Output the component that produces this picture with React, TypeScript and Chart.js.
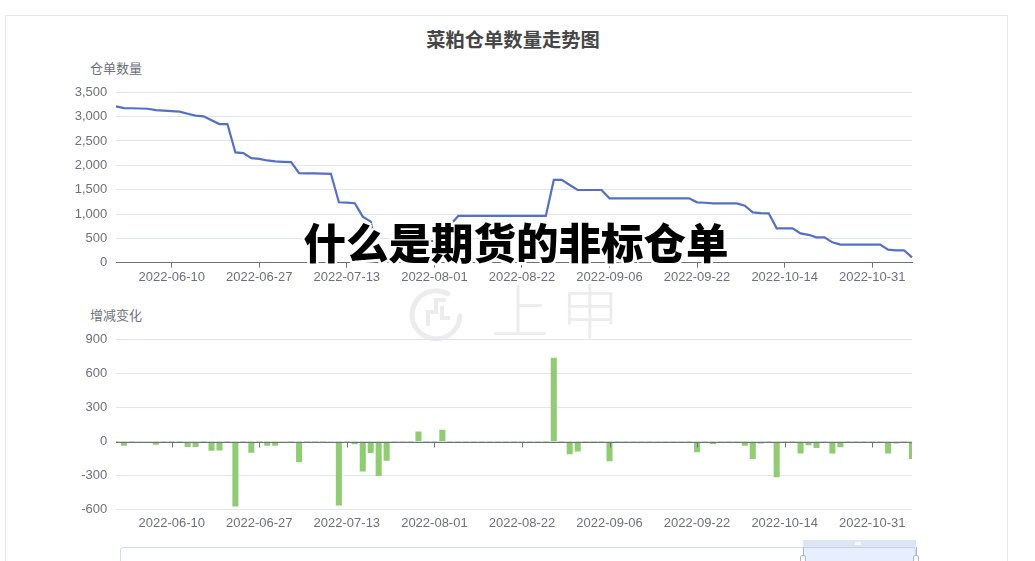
import React, { useEffect, useRef } from "react";
import { Chart, registerables } from "chart.js";

Chart.register(...registerables);

// ---------- data ----------
const dates: string[] = [
  "2022-05-31", "2022-06-01", "2022-06-02", "2022-06-06", "2022-06-07", "2022-06-08", "2022-06-09", "2022-06-10",
  "2022-06-13", "2022-06-14", "2022-06-15", "2022-06-16", "2022-06-17", "2022-06-20", "2022-06-21", "2022-06-22",
  "2022-06-23", "2022-06-24", "2022-06-27", "2022-06-28", "2022-06-29", "2022-06-30", "2022-07-01", "2022-07-04",
  "2022-07-05", "2022-07-06", "2022-07-07", "2022-07-08", "2022-07-11", "2022-07-13", "2022-07-14", "2022-07-15",
  "2022-07-18", "2022-07-19", "2022-07-20", "2022-07-21", "2022-07-22", "2022-07-25", "2022-07-26", "2022-07-28",
  "2022-08-01", "2022-08-02", "2022-08-03", "2022-08-05", "2022-08-08", "2022-08-09", "2022-08-11", "2022-08-12",
  "2022-08-15", "2022-08-17", "2022-08-19", "2022-08-22", "2022-08-23", "2022-08-24", "2022-08-25", "2022-08-26",
  "2022-08-29", "2022-08-30", "2022-08-31", "2022-09-01", "2022-09-02", "2022-09-05", "2022-09-06", "2022-09-07",
  "2022-09-08", "2022-09-09", "2022-09-13", "2022-09-14", "2022-09-15", "2022-09-16", "2022-09-19", "2022-09-20",
  "2022-09-21", "2022-09-22", "2022-09-23", "2022-09-26", "2022-09-27", "2022-09-28", "2022-09-29", "2022-09-30",
  "2022-10-10", "2022-10-11", "2022-10-12", "2022-10-13", "2022-10-14", "2022-10-17", "2022-10-18", "2022-10-19",
  "2022-10-20", "2022-10-21", "2022-10-24", "2022-10-25", "2022-10-26", "2022-10-27", "2022-10-28", "2022-10-31",
  "2022-11-01", "2022-11-02", "2022-11-03", "2022-11-04", "2022-11-07",
];

const shownDates: string[] = [
  "2022-06-10", "2022-06-27", "2022-07-13", "2022-08-01", "2022-08-22",
  "2022-09-06", "2022-09-22", "2022-10-14", "2022-10-31",
];

const receiptCounts: number[] = [
  3210, 3175, 3172, 3167, 3162, 3135, 3125, 3115, 3102, 3060,
  3020, 3006, 2925, 2848, 2848, 2265, 2251, 2148, 2134, 2100,
  2080, 2072, 2066, 1839, 1835, 1833, 1830, 1826, 1242, 1235,
  1222, 947, 844, 0, 0, 0, 0, 440, 440, 445,
  450, 550, 780, 960, 960, 960, 960, 960, 960, 960,
  960, 960, 960, 960, 960, 1700, 1700, 1596, 1493, 1493,
  1493, 1493, 1322, 1322, 1322, 1322, 1322, 1322, 1322, 1322,
  1322, 1322, 1322, 1240, 1231, 1219, 1219, 1219, 1219, 1171,
  1034, 1020, 1014, 706, 706, 706, 603, 573, 520, 520,
  418, 371, 371, 371, 371, 371, 371, 268, 255, 255,
  110,
];

const dailyChanges: number[] = [
  0, -35, 0, -5, -5, -26, 0, 0, 0, -46,
  -46, 0, -78, -75, 0, -568, 0, -95, 0, -35,
  -35, -8, 0, -179, 0, 0, 0, -5, -560, 0,
  -20, -260, -98, -300, -167, 0, 0, 0, 85, 0,
  0, 100, 0, 0, 0, 0, 0, 0, 0, 0,
  0, 0, 0, 0, 0, 735, 0, -108, -85, 0,
  0, 0, -170, 0, 0, 0, 0, 0, 0, 0,
  0, 0, 0, -91, 0, -18, 0, 0, 0, -35,
  -150, -15, 0, -311, 0, 0, -103, -30, -53, 0,
  -103, -47, 0, 0, 0, 0, 0, -103, -15, 0,
  -150,
];

const countAxis = { min: 0, max: 3500, step: 500 };
const changeAxis = { min: -600, max: 900, step: 300 };

// ---------- styles ----------
const FONT = "'Liberation Sans', Arial, 'Noto Sans CJK SC', sans-serif";
const CJK = "'Noto Sans CJK SC', 'Liberation Sans', sans-serif";
const AXIS_COLOR = "#6E7079";
const GRID_COLOR = "#E0E6F1";
const WATERMARK = "#ececec";

const labelCallback = (_v: any, i: number) => {
  const d = dates[i];
  return shownDates.includes(d) ? d : null;
};

const zeroTicksPlugin = {
  id: "zeroTicks",
  afterDatasetsDraw(chart: any) {
    const { ctx, scales } = chart;
    const x = scales.x;
    const y = scales.y;
    const y0 = Math.round(y.getPixelForValue(0)) + 0.5;
    ctx.save();
    ctx.strokeStyle = AXIS_COLOR;
    ctx.lineWidth = 1;
    ctx.beginPath();
    ctx.moveTo(chart.chartArea.left, y0);
    ctx.lineTo(chart.chartArea.right, y0);
    dates.forEach((d, i) => {
      if (shownDates.includes(d)) {
        const px = Math.round(x.getPixelForValue(i)) + 0.5;
        ctx.moveTo(px, y0);
        ctx.lineTo(px, y0 + 5);
      }
    });
    ctx.stroke();
    ctx.restore();
  },
};

export default function App() {
  const topRef = useRef<HTMLCanvasElement | null>(null);
  const bottomRef = useRef<HTMLCanvasElement | null>(null);

  useEffect(() => {
    if (!topRef.current || !bottomRef.current) return;

    const top = new Chart(topRef.current, {
      type: "line",
      data: {
        labels: dates,
        datasets: [
          {
            data: receiptCounts,
            borderColor: "#5470c6",
            backgroundColor: "#5470c6",
            borderWidth: 2.2,
            pointRadius: 0,
            tension: 0,
            fill: false,
          },
        ],
      },
      options: {
        animation: false,
        responsive: true,
        maintainAspectRatio: false,
        layout: { padding: { left: 0, right: 123, top: 92.3, bottom: 0 } },
        plugins: { legend: { display: false }, tooltip: { enabled: false } },
        scales: {
          x: {
            type: "category",
            offset: false,
            grid: { drawOnChartArea: false, drawTicks: true, tickLength: 5, color: AXIS_COLOR },
            border: { display: true, color: AXIS_COLOR, width: 1 },
            ticks: {
              autoSkip: false,
              maxRotation: 0,
              minRotation: 0,
              padding: 1.5,
              color: AXIS_COLOR,
              font: { size: 13, family: FONT },
              callback: labelCallback,
            },
            afterFit: (s: any) => {
              s.height = 37.3;
            },
          },
          y: {
            min: countAxis.min,
            max: countAxis.max,
            ticks: {
              stepSize: countAxis.step,
              padding: 8.7,
              color: AXIS_COLOR,
              font: { size: 13, family: FONT },
              callback: (v: any) => Number(v).toLocaleString("en-US"),
            },
            grid: { color: GRID_COLOR, drawTicks: false, lineWidth: 1 },
            border: { display: false },
            afterFit: (s: any) => {
              s.width = 116;
            },
          },
        },
      },
    } as any);

    const bottom = new Chart(bottomRef.current, {
      type: "bar",
      data: {
        labels: dates,
        datasets: [
          {
            data: dailyChanges,
            backgroundColor: "#91cc75",
            borderWidth: 0,
            barThickness: 5.4,
            clip: 0,
          } as any,
        ],
      },
      options: {
        animation: false,
        responsive: true,
        maintainAspectRatio: false,
        layout: { padding: { left: 0, right: 123, top: 39.3, bottom: 0 } },
        plugins: { legend: { display: false }, tooltip: { enabled: false } },
        scales: {
          x: {
            type: "category",
            offset: false,
            grid: { display: false, drawTicks: false },
            border: { display: false },
            ticks: {
              autoSkip: false,
              maxRotation: 0,
              minRotation: 0,
              padding: 5.8,
              color: AXIS_COLOR,
              font: { size: 13, family: FONT },
              callback: labelCallback,
            },
            afterFit: (s: any) => {
              s.height = 51.3;
            },
          },
          y: {
            min: changeAxis.min,
            max: changeAxis.max,
            ticks: {
              stepSize: changeAxis.step,
              padding: 8.7,
              color: AXIS_COLOR,
              font: { size: 13, family: FONT },
            },
            grid: { color: GRID_COLOR, drawTicks: false, lineWidth: 1 },
            border: { display: false },
            afterFit: (s: any) => {
              s.width = 116;
            },
          },
        },
      },
      plugins: [zeroTicksPlugin],
    } as any);

    return () => {
      top.destroy();
      bottom.destroy();
    };
  }, []);

  const haloColor = "#fff";
  const halo = [
    [-2.5, 0], [2.5, 0], [0, -2.5], [0, 2.5],
    [-2, -2], [2, -2], [-2, 2], [2, 2],
  ]
    .map(([x, y]) => `${x}px ${y}px 0 ${haloColor}`)
    .join(", ");

  return (
    <div
      style={{
        position: "absolute",
        left: 0,
        top: 0,
        width: 1035,
        height: 561,
        overflow: "hidden",
        background: "#fff",
      }}
    >
      {/* card border */}
      <div
        style={{
          position: "absolute",
          left: 5,
          top: 15,
          width: 1003,
          height: 700,
          border: "1px solid #e8e8e8",
          boxSizing: "border-box",
        }}
      />

      {/* watermark */}
      <svg
        style={{ position: "absolute", left: 408, top: 286, width: 58, height: 56 }}
        viewBox="0 0 58 56"
      >
        <path
          d="M40 8 A24 24 0 1 0 52 30"
          fill="none"
          stroke={WATERMARK}
          strokeWidth={5}
          strokeLinecap="round"
        />
        <path
          d="M38 14 L28 14 L28 26 L20 26 L20 40"
          fill="none"
          stroke={WATERMARK}
          strokeWidth={4}
        />
        <path
          d="M34 20 L34 32 L42 32"
          fill="none"
          stroke={WATERMARK}
          strokeWidth={4}
        />
      </svg>
      <div
        style={{
          position: "absolute",
          left: 491,
          top: 279,
          fontFamily: CJK,
          fontSize: 58,
          fontWeight: 300,
          lineHeight: "58px",
          color: WATERMARK,
          whiteSpace: "nowrap",
        }}
      >
        上
      </div>
      <div
        style={{
          position: "absolute",
          left: 561,
          top: 279,
          fontFamily: CJK,
          fontSize: 58,
          fontWeight: 300,
          lineHeight: "58px",
          color: WATERMARK,
          whiteSpace: "nowrap",
        }}
      >
        申
      </div>

      {/* title */}
      <div
        style={{
          position: "absolute",
          left: 0,
          top: 30.3,
          width: 1026,
          textAlign: "center",
          fontFamily: CJK,
          fontWeight: 700,
          fontSize: 19.3,
          lineHeight: "19.3px",
          color: "#464646",
          whiteSpace: "nowrap",
        }}
      >
        菜粕仓单数量走势图
      </div>

      {/* axis names */}
      <div
        style={{
          position: "absolute",
          left: 90,
          top: 61.1,
          fontFamily: CJK,
          fontSize: 13,
          lineHeight: "13px",
          color: AXIS_COLOR,
          whiteSpace: "nowrap",
        }}
      >
        仓单数量
      </div>
      <div
        style={{
          position: "absolute",
          left: 90,
          top: 307.8,
          fontFamily: CJK,
          fontSize: 13,
          lineHeight: "13px",
          color: AXIS_COLOR,
          whiteSpace: "nowrap",
        }}
      >
        增减变化
      </div>

      {/* charts */}
      <div style={{ position: "absolute", left: 0, top: 0, width: 1035, height: 300 }}>
        <canvas ref={topRef} />
      </div>
      <div style={{ position: "absolute", left: 0, top: 300, width: 1035, height: 261 }}>
        <canvas ref={bottomRef} />
      </div>

      {/* data zoom slider */}
      <div
        style={{
          position: "absolute",
          left: 120,
          top: 547,
          width: 796,
          height: 30,
          border: "1px solid #d2dbee",
          borderRadius: 3,
          boxSizing: "border-box",
        }}
      />
      <div
        style={{
          position: "absolute",
          left: 803,
          top: 547,
          width: 113,
          height: 30,
          background: "rgba(135,175,255,0.2)",
        }}
      />
      <div
        style={{
          position: "absolute",
          left: 803,
          top: 540,
          width: 113,
          height: 7,
          background: "#D2DBEE",
          opacity: 0.7,
        }}
      />
      <div
        style={{
          position: "absolute",
          left: 855,
          top: 542,
          width: 6,
          height: 3,
          background: "#fff",
          opacity: 0.8,
        }}
      />
      {[803, 916].map((hx) => (
        <React.Fragment key={hx}>
          <div
            style={{
              position: "absolute",
              left: hx - 0.5,
              top: 547,
              width: 1,
              height: 8,
              background: "#ACB8D1",
            }}
          />
          <div
            style={{
              position: "absolute",
              left: hx - 3,
              top: 555,
              width: 6,
              height: 14,
              background: "#fff",
              border: "1px solid #ACB8D1",
              borderRadius: 2,
              boxSizing: "border-box",
            }}
          />
        </React.Fragment>
      ))}

      {/* overlay caption */}
      <div
        style={{
          position: "absolute",
          left: 303.5,
          top: 219.5,
          fontFamily: CJK,
          fontWeight: 900,
          fontSize: 42.5,
          lineHeight: "42.5px",
          color: "#000",
          whiteSpace: "nowrap",
          textShadow: halo,
        }}
      >
        什么是期货的非标仓单
      </div>
    </div>
  );
}
